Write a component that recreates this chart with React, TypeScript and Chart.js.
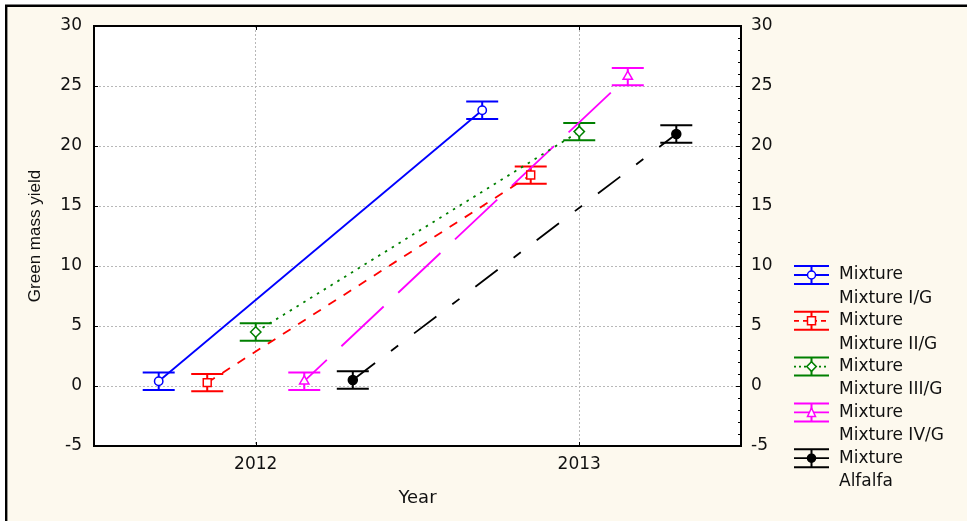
import React, { useEffect, useRef } from "react";
import { Chart, registerables } from "chart.js";

Chart.register(...registerables);

// ---------- data ----------
const years = [2012, 2013];
const yTickValues = [-5, 0, 5, 10, 15, 20, 25, 30];
const legendHeading = "Mixture";
const seriesNames = ["Mixture I/G", "Mixture II/G", "Mixture III/G", "Mixture IV/G", "Alfalfa"];
const mixtureI = [0.4, 22.98];
const mixtureII = [0.28, 17.58];
const mixtureIII = [4.5, 21.2];
const mixtureIV = [0.4, 25.78];
const alfalfa = [0.5, 21.0];
const errMixtureI = [0.73, 0.72];
const errMixtureII = [0.72, 0.72];
const errMixtureIII = [0.72, 0.72];
const errMixtureIV = [0.73, 0.72];
const errAlfalfa = [0.72, 0.72];
const xAxisTitle = "Year";
const yAxisTitle = "Green mass yield";

// ---------- styles ----------
const xOffsets = [-0.3, -0.15, 0, 0.15, 0.3];
const colors = ["#0000FF", "#FF0000", "#008000", "#FF00FF", "#000000"];
const dashes = [[], [9, 9], [2.5, 5.5], [58, 20], [28, 20, 9, 20]];
const dashOffsets = [0, 0, 0, 27, 0];
const markers = ["circle", "rect", "rectRot", "triangle", "circle"];
const markerRadius = [4.2, 5.6, 5.2, 5.4, 4.5];
const markerFill = ["#FFFFFF", "#FFFFFF", "#FFFFFF", "#FFFFFF", "#000000"];
const values = [mixtureI, mixtureII, mixtureIII, mixtureIV, alfalfa];
const errors = [errMixtureI, errMixtureII, errMixtureIII, errMixtureIV, errAlfalfa];

const FONT = '"DejaVu Sans", "Liberation Sans", Arial, sans-serif';
const ARIAL = '"Liberation Sans", Arial, sans-serif';

function drawMarker(ctx: CanvasRenderingContext2D, style: string, x: number, y: number, r: number, fill: string, stroke: string) {
  ctx.save();
  ctx.setLineDash([]);
  ctx.lineWidth = 1.5;
  ctx.fillStyle = fill;
  ctx.strokeStyle = stroke;
  ctx.beginPath();
  if (style === "circle") {
    ctx.arc(x, y, r, 0, Math.PI * 2);
  } else if (style === "rect") {
    ctx.rect(x - r, y - r, 2 * r, 2 * r);
  } else if (style === "rectRot") {
    ctx.moveTo(x, y - r * 1.2);
    ctx.lineTo(x + r * 1.2, y);
    ctx.lineTo(x, y + r * 1.2);
    ctx.lineTo(x - r * 1.2, y);
    ctx.closePath();
  } else if (style === "triangle") {
    ctx.moveTo(x, y - r * 1.1);
    ctx.lineTo(x + r, y + r);
    ctx.lineTo(x - r, y + r);
    ctx.closePath();
  }
  ctx.fill();
  ctx.stroke();
  ctx.restore();
}

const framePlugin = {
  id: "frame",
  beforeDraw(chart: any) {
    const { ctx, chartArea, width, height } = chart;
    ctx.save();
    ctx.fillStyle = "#FFFFFF";
    ctx.fillRect(0, 0, width, height);
    ctx.fillStyle = "#FDF9EE";
    ctx.fillRect(6, 6, width - 6, height - 6);
    ctx.strokeStyle = "#000";
    ctx.lineWidth = 2.4;
    ctx.beginPath();
    ctx.moveTo(6.2, height);
    ctx.lineTo(6.2, 5.8);
    ctx.lineTo(width, 5.8);
    ctx.stroke();
    ctx.fillStyle = "#FFFFFF";
    ctx.fillRect(chartArea.left, chartArea.top, chartArea.right - chartArea.left, chartArea.bottom - chartArea.top);
    ctx.restore();
  },
  beforeDatasetsDraw(chart: any) {
    const { ctx } = chart;
    const ys = chart.scales.y;
    ctx.save();
    chart.data.datasets.forEach((ds: any, i: number) => {
      const meta = chart.getDatasetMeta(i);
      meta.data.forEach((el: any, j: number) => {
        const v = values[i][j];
        const e = errors[i][j];
        const yt = ys.getPixelForValue(v + e);
        const yb = ys.getPixelForValue(v - e);
        ctx.strokeStyle = colors[i];
        ctx.lineWidth = 2;
        ctx.setLineDash([]);
        ctx.beginPath();
        ctx.moveTo(el.x, yt);
        ctx.lineTo(el.x, yb);
        ctx.moveTo(el.x - 16, yt);
        ctx.lineTo(el.x + 16, yt);
        ctx.moveTo(el.x - 16, yb);
        ctx.lineTo(el.x + 16, yb);
        ctx.stroke();
      });
    });
    ctx.restore();
  },
  afterDraw(chart: any) {
    const { ctx, chartArea } = chart;
    const ys = chart.scales.y;
    const xs = chart.scales.x;
    ctx.save();
    // top border
    ctx.strokeStyle = "#000";
    ctx.lineWidth = 2;
    ctx.beginPath();
    ctx.moveTo(chartArea.left - 1, chartArea.top);
    ctx.lineTo(chartArea.right + 1, chartArea.top);
    ctx.stroke();
    // inner ticks
    ctx.lineWidth = 1;
    ctx.beginPath();
    for (let v = -5; v <= 30; v += 1) {
      const py = Math.round(ys.getPixelForValue(v)) + 0.5;
      const major = v % 5 === 0;
      ctx.moveTo(chartArea.right, py);
      ctx.lineTo(chartArea.right - (major ? 5 : 3), py);
      if (major) {
        ctx.moveTo(chartArea.left, py);
        ctx.lineTo(chartArea.left + 4, py);
      }
    }
    years.forEach((yr) => {
      const px = Math.round(xs.getPixelForValue(yr)) + 0.5;
      ctx.moveTo(px, chartArea.top);
      ctx.lineTo(px, chartArea.top + 4);
      ctx.moveTo(px, chartArea.bottom);
      ctx.lineTo(px, chartArea.bottom - 4);
    });
    ctx.stroke();

    // axis titles
    ctx.fillStyle = "#111";
    ctx.textAlign = "center";
    ctx.textBaseline = "middle";
    ctx.font = `18px ${FONT}`;
    ctx.fillText(xAxisTitle, (chartArea.left + chartArea.right) / 2, chartArea.bottom + 52);
    ctx.save();
    ctx.translate(35, (chartArea.top + chartArea.bottom) / 2);
    ctx.rotate(-Math.PI / 2);
    ctx.font = `17px ${ARIAL}`;
    ctx.fillText(yAxisTitle, 0, 0);
    ctx.restore();

    // legend
    const lx0 = chartArea.right + 53;
    const lx1 = lx0 + 35;
    const lcx = (lx0 + lx1) / 2;
    const ltop = chartArea.top + 249;
    seriesNames.forEach((name, k) => {
      const cy = ltop + k * 45.8;
      ctx.strokeStyle = colors[k];
      ctx.lineWidth = 2;
      ctx.setLineDash([]);
      ctx.beginPath();
      ctx.moveTo(lx0, cy - 9);
      ctx.lineTo(lx1, cy - 9);
      ctx.moveTo(lx0, cy + 9);
      ctx.lineTo(lx1, cy + 9);
      ctx.moveTo(lcx, cy - 9);
      ctx.lineTo(lcx, cy + 9);
      ctx.stroke();
      ctx.lineWidth = 1.8;
      const d = k === 1 ? [5, 4] : k === 2 ? [2, 3] : [];
      ctx.setLineDash(d);
      ctx.beginPath();
      ctx.moveTo(lx0, cy);
      ctx.lineTo(lx1, cy);
      ctx.stroke();
      ctx.setLineDash([]);
      drawMarker(ctx, markers[k], lcx, cy, 4, markerFill[k], colors[k]);
      ctx.fillStyle = "#111";
      ctx.textAlign = "left";
      ctx.textBaseline = "middle";
      ctx.font = `17px ${FONT}`;
      ctx.fillText(legendHeading, lx1 + 10, cy);
      ctx.fillText(name, lx1 + 10, cy + 23.3);
    });
    ctx.restore();
  },
};

export default function App() {
  const canvasRef = useRef<HTMLCanvasElement | null>(null);

  useEffect(() => {
    const canvas = canvasRef.current;
    if (!canvas) return;
    Chart.defaults.font.family = FONT;
    const datasets = seriesNames.map((name, i) => ({
      label: name,
      data: years.map((yr, j) => ({ x: yr + xOffsets[i], y: values[i][j] })),
      borderColor: colors[i],
      borderWidth: 1.8,
      borderDash: dashes[i],
      borderDashOffset: dashOffsets[i],
      pointStyle: markers[i] as any,
      pointRadius: markerRadius[i],
      pointBackgroundColor: markerFill[i],
      pointBorderColor: colors[i],
      pointBorderWidth: 1.5,
      showLine: true,
      tension: 0,
      fill: false,
      clip: false as any,
    }));

    const tickFont = { family: FONT, size: 17 };
    const chart = new Chart(canvas, {
      type: "line",
      data: { datasets },
      plugins: [framePlugin],
      options: {
        animation: false,
        responsive: false,
        devicePixelRatio: 1,
        layout: { padding: { top: 26, left: 0, right: 0, bottom: 0 } },
        plugins: { legend: { display: false }, tooltip: { enabled: false } },
        scales: {
          x: {
            type: "linear",
            position: "bottom",
            min: 2011.5,
            max: 2013.5,
            afterBuildTicks: (s: any) => {
              s.ticks = years.map((v) => ({ value: v }));
            },
            afterFit: (s: any) => {
              s.height = 75;
            },
            ticks: {
              callback: (v: any) => String(v),
              font: tickFont,
              color: "#111",
              padding: 8,
              maxRotation: 0,
              autoSkip: false,
            },
            grid: { color: "#B8B8B8", lineWidth: 1, drawTicks: false },
            border: { display: true, color: "#000", width: 2, dash: [2, 2] },
          },
          y: {
            type: "linear",
            position: "left",
            min: -5,
            max: 30,
            afterBuildTicks: (s: any) => {
              s.ticks = yTickValues.map((v) => ({ value: v }));
            },
            afterFit: (s: any) => {
              s.width = 94;
            },
            ticks: { font: tickFont, color: "#111", padding: 12 },
            grid: { color: "#B8B8B8", lineWidth: 1, drawTicks: false },
            border: { display: true, color: "#000", width: 2, dash: [2, 2] },
          },
          y2: {
            type: "linear",
            position: "right",
            min: -5,
            max: 30,
            afterBuildTicks: (s: any) => {
              s.ticks = yTickValues.map((v) => ({ value: v }));
            },
            afterFit: (s: any) => {
              s.width = 226;
            },
            ticks: { font: tickFont, color: "#111", padding: 10 },
            grid: { drawOnChartArea: false, drawTicks: false },
            border: { display: true, color: "#000", width: 2 },
          },
        },
      },
    } as any);
    return () => chart.destroy();
  }, []);

  return (
    <div style={{ position: "absolute", left: 0, top: 0, width: 967, height: 521 }}>
      <canvas ref={canvasRef} width={967} height={521} style={{ display: "block" }} />
    </div>
  );
}
